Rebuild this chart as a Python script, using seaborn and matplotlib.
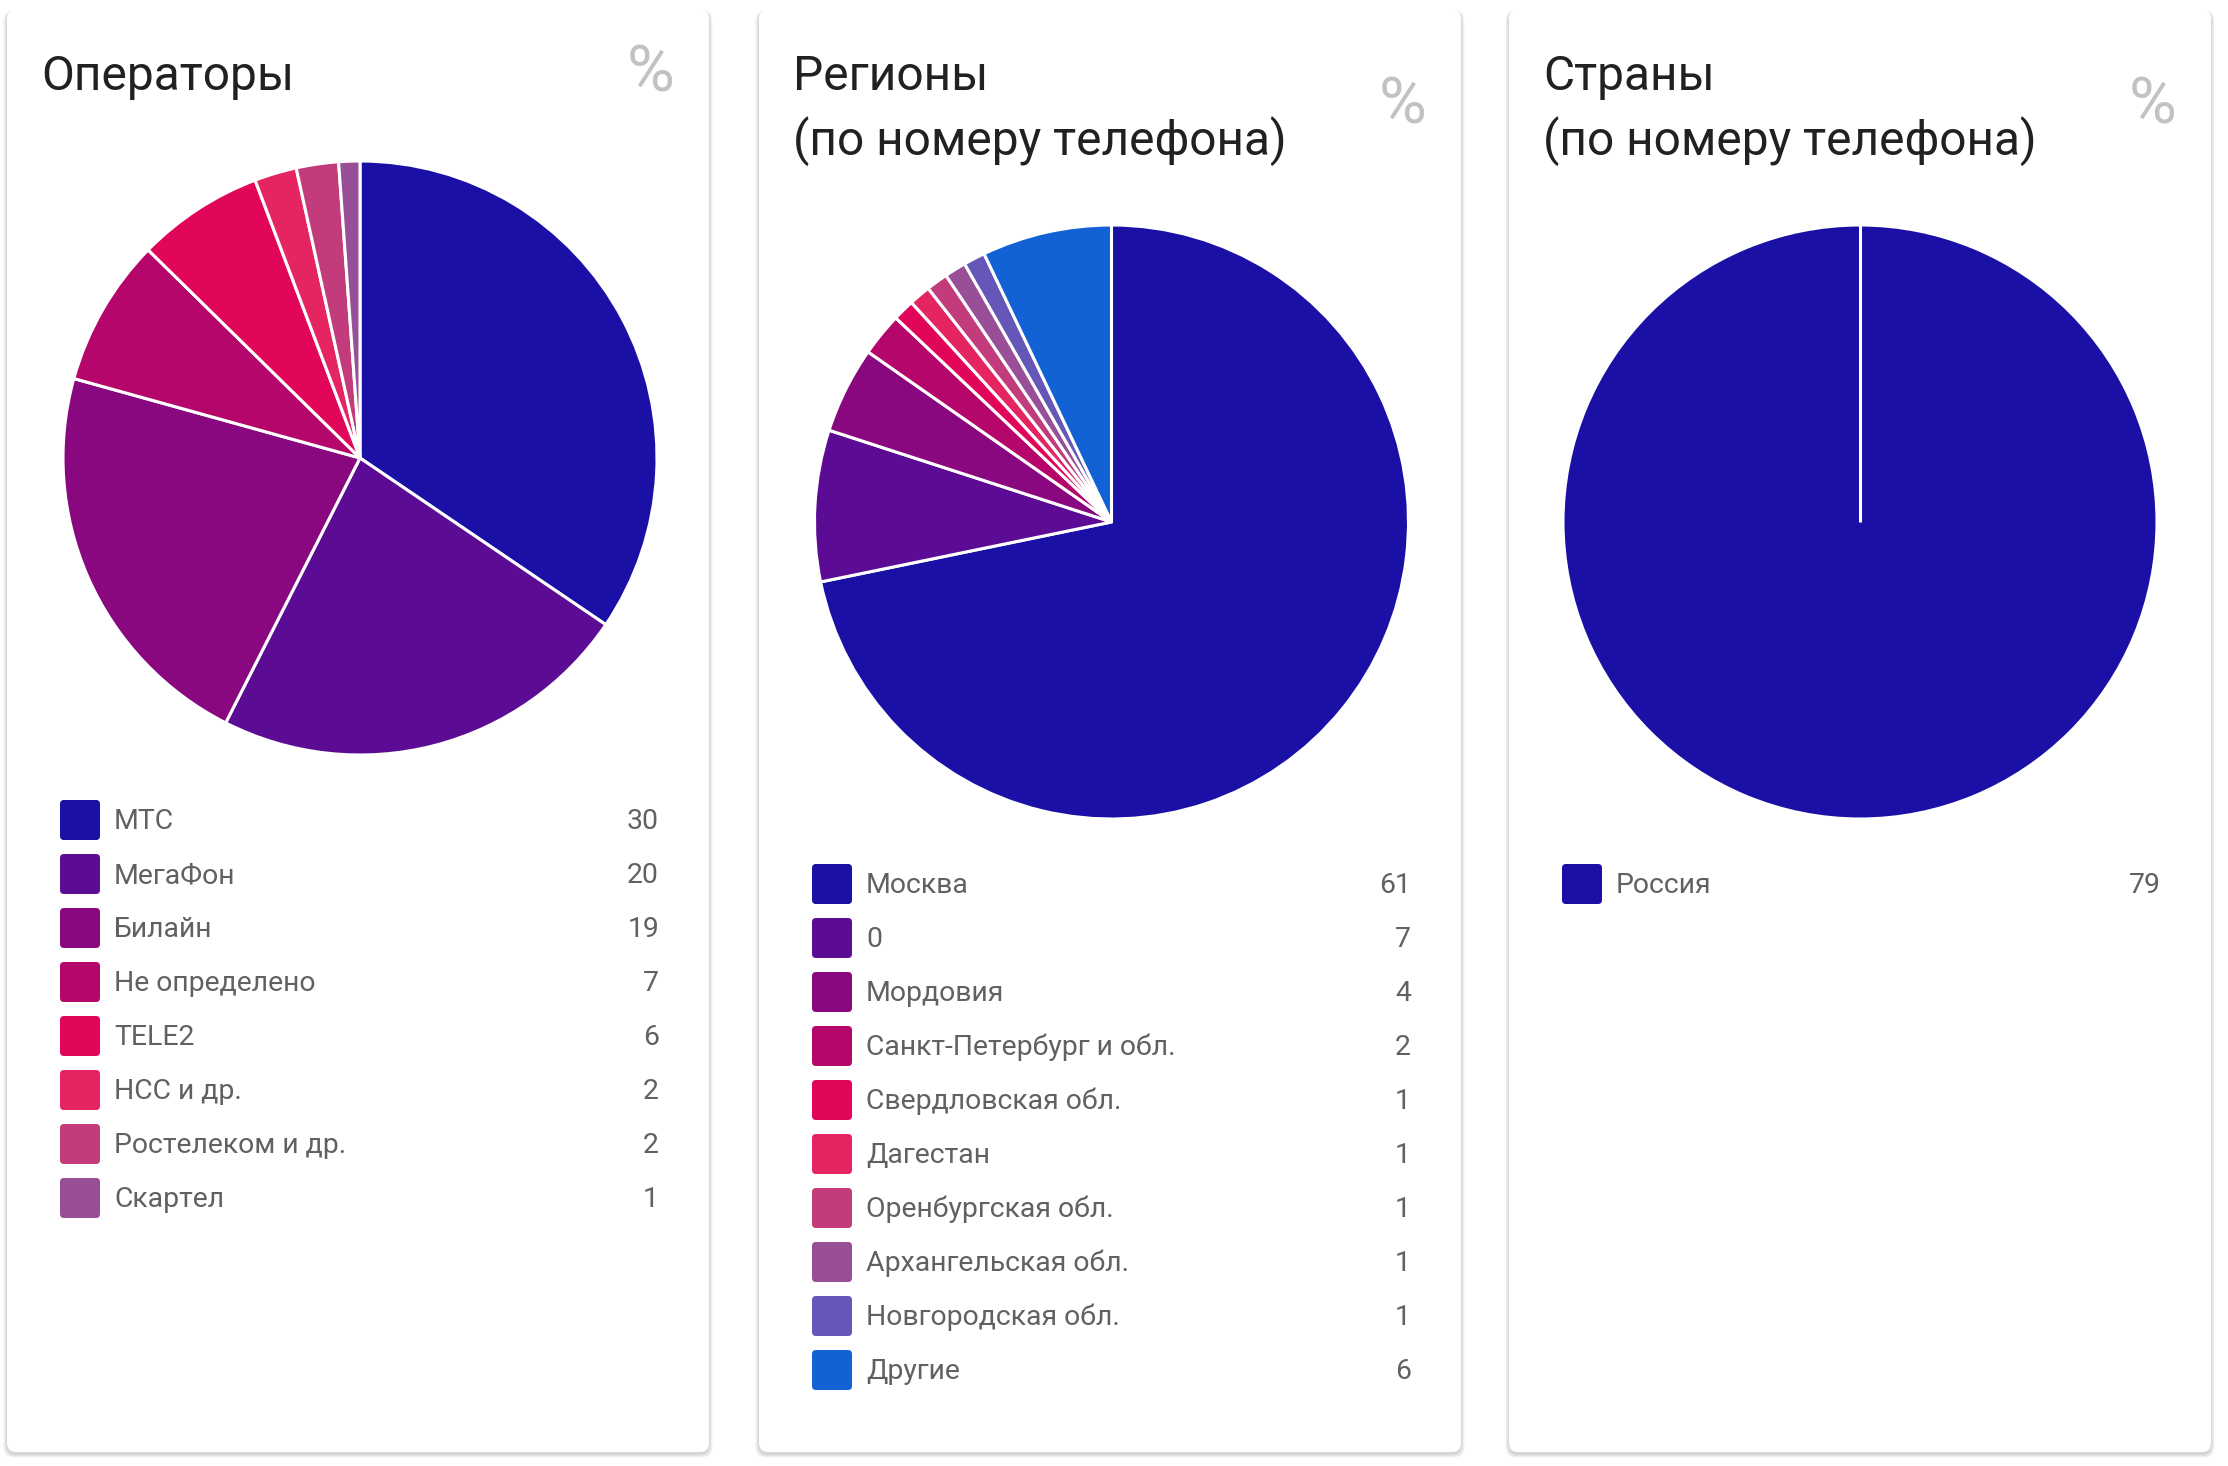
import numpy as np
import matplotlib
matplotlib.use("Agg")
import matplotlib.pyplot as plt
import seaborn as sns
from matplotlib.patches import FancyBboxPatch

sns.set_theme(style="white")
plt.rcParams['font.family'] = ['Roboto', 'DejaVu Sans']

# ---------------- data ----------------
op_labels = ["МТС", "МегаФон", "Билайн", "Не определено", "TELE2", "НСС и др.", "Ростелеком и др.", "Скартел"]
op_values = [30, 20, 19, 7, 6, 2, 2, 1]

reg_labels = ["Москва", "0", "Мордовия", "Санкт-Петербург и обл.", "Свердловская обл.", "Дагестан",
              "Оренбургская обл.", "Архангельская обл.", "Новгородская обл.", "Другие"]
reg_values = [61, 7, 4, 2, 1, 1, 1, 1, 1, 6]

cty_labels = ["Россия"]
cty_values = [79]

palette = ['#1a10a6', '#5c0c94', '#8a087f', '#b5066b', '#e2065b', '#e52462',
           '#c23b7a', '#984f98', '#6457b8', '#1262d6']

titles = ["Операторы", "Регионы\n(по номеру телефона)", "Страны\n(по номеру телефона)"]

# ---------------- layout (pixels) ----------------
W, H = 2228, 1466
fig = plt.figure(figsize=(W / 100, H / 100), dpi=100)
fig.patch.set_facecolor('white')

bg = fig.add_axes([0, 0, 1, 1])
bg.set_xlim(0, W)
bg.set_ylim(H, 0)
bg.axis('off')

cards = [(7, 709), (759, 1461), (1509, 2211)]
card_top, card_bot = 10, 1452
R = 297
pie_cx_off = [2, 1.5, 0]
pie_cy = [458, 522, 522]
leg_y0 = [820, 884, 884]
row_h = 54
pct_y = [73, 106, 106]

datasets = [(op_labels, op_values), (reg_labels, reg_values), (cty_labels, cty_values)]

for k, (x0, x1) in enumerate(cards):
    # shadow
    for i in range(1, 7):
        sh = FancyBboxPatch((x0 - i * 0.6, card_top - i * 0.3 + 2), x1 - x0 + i * 1.2, card_bot - card_top + i * 0.9,
                            boxstyle="round,pad=0,rounding_size=10", facecolor='black',
                            edgecolor='none', alpha=0.028, zorder=1)
        bg.add_patch(sh)
    card = FancyBboxPatch((x0, card_top), x1 - x0, card_bot - card_top,
                          boxstyle="round,pad=0,rounding_size=9", facecolor='white',
                          edgecolor='none', zorder=2)
    bg.add_patch(card)

    # title
    lines = titles[k].split("\n")
    for j, ln in enumerate(lines):
        bg.text(x0 + 34, 90 + j * 65, ln, fontsize=34.5, color='#212121',
                ha='left', va='baseline', zorder=3)
    bg.text(x1 - 34, pct_y[k], "%", fontsize=47, color='#c2c2c2',
            ha='right', va='center', zorder=3)

    # pie
    labels, values = datasets[k]
    cx = (x0 + x1) / 2 + pie_cx_off[k]
    cy = pie_cy[k]
    pad = 6
    ax = fig.add_axes([(cx - R - pad) / W, 1 - (cy + R + pad) / H, (2 * R + 2 * pad) / W, (2 * R + 2 * pad) / H])
    ax.set_facecolor('none')
    wedges, _ = ax.pie(values, colors=palette[:len(values)], startangle=90, counterclock=False,
                       radius=1, wedgeprops=dict(edgecolor='white', linewidth=2.2))
    lim = 1 + pad / R
    ax.set_xlim(-lim, lim)
    ax.set_ylim(-lim, lim)
    ax.set_aspect('equal')
    ax.axis('off')
    if len(values) == 1:
        w = wedges[0]
        th = np.deg2rad(w.theta2)
        ax.plot([w.center[0], w.center[0] + w.r * np.cos(th)],
                [w.center[1], w.center[1] + w.r * np.sin(th)], color='white', lw=2.2,
                solid_capstyle='butt')

    # legend
    for i, (lab, val) in enumerate(zip(labels, values)):
        yc = leg_y0[k] + i * row_h
        sw = FancyBboxPatch((x0 + 53, yc - 20), 40, 40, boxstyle="round,pad=0,rounding_size=4",
                            facecolor=palette[i], edgecolor='none', zorder=3)
        bg.add_patch(sw)
        bg.text(x0 + 107, yc + 1.5, lab, fontsize=20.4, color='#616161', ha='left', va='center', zorder=3)
        bg.text(x0 + 652, yc + 1.5, str(val), fontsize=20.4, color='#616161', ha='right', va='center', zorder=3)

fig.savefig("out.png", dpi=100, facecolor='white')
